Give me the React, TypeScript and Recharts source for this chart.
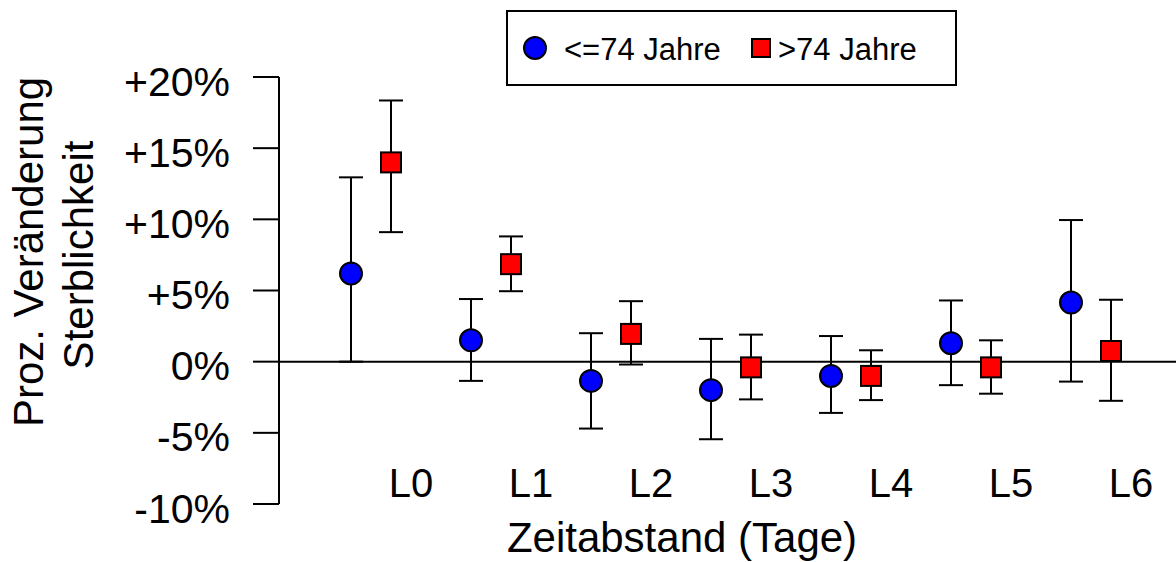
import { ComposedChart, Scatter, XAxis, YAxis, ErrorBar, ReferenceLine, Legend, Label } from 'recharts';

const FONT = '"Liberation Sans", Arial, sans-serif';

// lag categories shown on the x axis
const categories = ['L0', 'L1', 'L2', 'L3', 'L4', 'L5', 'L6'];
const yTicks = [-10, -5, 0, 5, 10, 15, 20];

// <=74 Jahre: estimate with lower / upper bound (in %)
const youngMean = [6.2, 1.5, -1.35, -2.0, -1.0, 1.3, 4.15];
const youngLow = [0.0, -1.35, -4.7, -5.45, -3.6, -1.65, -1.4];
const youngHigh = [12.95, 4.4, 2.0, 1.6, 1.8, 4.3, 9.95];

// >74 Jahre
const oldMean = [14.0, 6.85, 1.95, -0.4, -1.0, -0.4, 0.75];
const oldLow = [9.1, 4.95, -0.2, -2.65, -2.7, -2.25, -2.75];
const oldHigh = [18.35, 8.8, 4.25, 1.9, 0.8, 1.5, 4.35];

// horizontal shift of each group relative to its label
const YOUNG_SHIFT = -0.5;
const OLD_SHIFT = -1 / 6;

const build = (mean: number[], low: number[], high: number[], shift: number) =>
  mean.map((m, i) => ({ x: i + shift, y: m, err: [m - low[i], high[i] - m] }));

const youngData = build(youngMean, youngLow, youngHigh, YOUNG_SHIFT);
const oldData = build(oldMean, oldLow, oldHigh, OLD_SHIFT);

const fmtPct = (v: number) => (v > 0 ? `+${v}%` : `${v}%`);

const Circle = (props: any) => (
  <circle cx={props.cx} cy={props.cy} r={11} fill="#0000FF" stroke="#000" strokeWidth={2} />
);

const Square = (props: any) => (
  <rect x={props.cx - 10} y={props.cy - 10} width={20} height={20} fill="#FF0000" stroke="#000" strokeWidth={2} />
);

const XTick = (props: any) => (
  <text x={props.x} y={props.y - 7} textAnchor="middle" fontSize={40} fontFamily={FONT} fill="#000">
    {categories[props.payload.value]}
  </text>
);

const XTitle = (props: any) => {
  const vb = props.viewBox;
  return (
    <text x={vb.x + 403} y={vb.y + 48} textAnchor="middle" fontSize={42} fontFamily={FONT} fill="#000">
      Zeitabstand (Tage)
    </text>
  );
};

const YTitle = () => (
  <g fontSize={42} fontFamily={FONT} fill="#000" textAnchor="middle">
    <text transform="translate(43,252) rotate(-90)">Proz. Veränderung</text>
    <text transform="translate(93,255) rotate(-90)">Sterblichkeit</text>
  </g>
);

const LegendBox = () => (
  <svg width={451} height={76} style={{ display: 'block' }}>
    <rect x={1} y={1} width={449} height={74} fill="#fff" stroke="#000" strokeWidth={2} />
    <circle cx={29} cy={38} r={11} fill="#0000FF" stroke="#000" strokeWidth={2} />
    <text x={58} y={50} fontSize={31} fontFamily={FONT} fill="#000">{'<=74 Jahre'}</text>
    <rect x={246} y={29} width={18} height={18} fill="#FF0000" stroke="#000" strokeWidth={2} />
    <text x={272} y={50} fontSize={31} fontFamily={FONT} fill="#000">{'>74 Jahre'}</text>
  </svg>
);

export default function App() {
  return (
    <div style={{ position: 'absolute', left: 0, top: 0, background: '#fff' }}>
      <style>{'.recharts-errorBar line { stroke-width: 2px; stroke: #000; }'}</style>
      <ComposedChart width={1176} height={562} margin={{ top: 77, right: 0, bottom: 0, left: 0 }}>
        <XAxis
          type="number"
          dataKey="x"
          domain={[-1.1, 6.375]}
          ticks={[0, 1, 2, 3, 4, 5, 6]}
          height={58}
          axisLine={false}
          tickLine={false}
          tickSize={0}
          tickMargin={0}
          tick={<XTick />}
          interval={0}
        >
          <Label content={XTitle} />
        </XAxis>
        <YAxis
          type="number"
          dataKey="y"
          domain={[-10, 20]}
          ticks={yTicks}
          width={279}
          tickFormatter={fmtPct}
          tick={{ fontSize: 41, fontFamily: FONT, fill: '#000', dy: 4 }}
          tickSize={26}
          tickMargin={23}
          axisLine={{ stroke: '#000', strokeWidth: 2 }}
          tickLine={{ stroke: '#000', strokeWidth: 2 }}
          interval={0}
        >
          <Label content={YTitle} />
        </YAxis>
        <Legend
          verticalAlign="middle"
          align="center"
          content={<LegendBox />}
          wrapperStyle={{ left: 506, top: 10, width: 451, height: 76 }}
        />
        <Scatter name="<=74 Jahre" data={youngData} shape={Circle} isAnimationActive={false}>
          <ErrorBar dataKey="err" direction="y" width={12} stroke="#000" strokeWidth={2} isAnimationActive={false} />
        </Scatter>
        <Scatter name=">74 Jahre" data={oldData} shape={Square} isAnimationActive={false}>
          <ErrorBar dataKey="err" direction="y" width={12} stroke="#000" strokeWidth={2} isAnimationActive={false} />
        </Scatter>
        <ReferenceLine y={0} stroke="#000" strokeWidth={2} />
      </ComposedChart>
    </div>
  );
}
